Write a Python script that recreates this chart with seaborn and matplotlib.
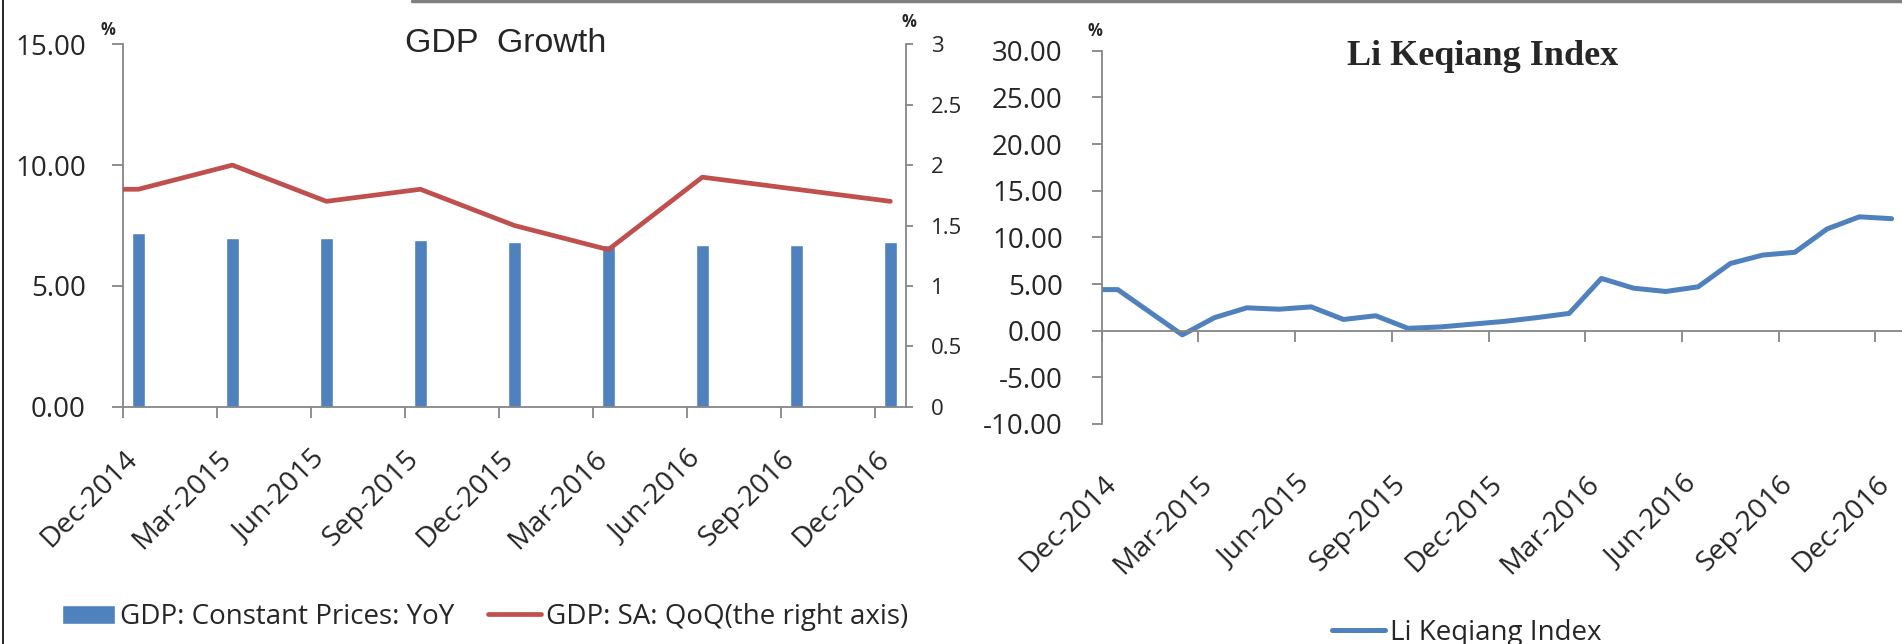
import matplotlib
matplotlib.use("Agg")
import matplotlib.pyplot as plt
from matplotlib.lines import Line2D
from matplotlib.transforms import ScaledTranslation
import pandas as pd
import seaborn as sns

# ---- data -------------------------------------------------------------
gdp_quarters = ["2014-12", "2015-03", "2015-06", "2015-09", "2015-12",
                "2016-03", "2016-06", "2016-09", "2016-12"]
gdp_yoy = [7.2, 7.0, 7.0, 6.9, 6.8, 6.7, 6.7, 6.7, 6.8]

qoq_quarters = ["2014-09"] + gdp_quarters
gdp_qoq = [1.8, 1.8, 2.0, 1.7, 1.8, 1.5, 1.3, 1.9, 1.8, 1.7]

lk_months = ["2014-11", "2014-12", "2015-02", "2015-03", "2015-04", "2015-05",
             "2015-06", "2015-07", "2015-08", "2015-09", "2015-10", "2015-11",
             "2015-12", "2016-01", "2016-02", "2016-03", "2016-04", "2016-05",
             "2016-06", "2016-07", "2016-08", "2016-09", "2016-10", "2016-11",
             "2016-12"]
lk_index = [4.4, 4.4, -0.45, 1.4, 2.45, 2.3, 2.55, 1.2, 1.6, 0.25, 0.4, 0.7,
            1.0, 1.4, 1.85, 5.6, 4.55, 4.2, 4.7, 7.2, 8.1, 8.4, 10.9, 12.2, 12.0]

tick_months = ["2014-12", "2015-03", "2015-06", "2015-09", "2015-12",
               "2016-03", "2016-06", "2016-09", "2016-12"]
tick_labels = ["Dec-2014", "Mar-2015", "Jun-2015", "Sep-2015", "Dec-2015",
               "Mar-2016", "Jun-2016", "Sep-2016", "Dec-2016"]

gdp_left_ticks = [0, 5, 10, 15]
gdp_right_ticks = [0, 0.5, 1, 1.5, 2, 2.5, 3]
lk_ticks = [-10, -5, 0, 5, 10, 15, 20, 25, 30]

# ---- helpers ----------------------------------------------------------
BASE = pd.Period("2014-12", "M")


def month_start(labels):
    return [(pd.Period(s, "M") - BASE).n for s in labels]


def month_mid(labels):
    return [m + 0.5 for m in month_start(labels)]


BLUE = "#4F81BD"
RED = "#C0504D"
GREY = "#868686"
W, H = 1902, 644

sns.set_style("white")
plt.rcParams["font.family"] = ["Open Sans", "DejaVu Sans"]

fig = plt.figure(figsize=(W / 100, H / 100), dpi=100)
shift = ScaledTranslation(20 / 100, 0, fig.dpi_scale_trans)

# ---- left panel: GDP growth ------------------------------------------
ax1 = fig.add_axes([122.7 / W, 1 - 406.7 / H, 783.3 / W, (406.7 - 44.3) / H])
bars = pd.DataFrame({"month": month_mid(gdp_quarters), "yoy": gdp_yoy})
sns.barplot(data=bars, x="month", y="yoy", native_scale=True, width=0.135,
            color=BLUE, saturation=1, errorbar=None, ax=ax1)
ax1.set_xlim(0, 25)
ax1.set_ylim(0, 15)
ax1.set_yticks(gdp_left_ticks, [f"{v:.2f}" for v in gdp_left_ticks])
ax1.set_xticks(month_start(tick_months), tick_labels)
ax1.set_xlabel("")
ax1.set_ylabel("")
for s in ("top", "right"):
    ax1.spines[s].set_visible(False)
for s in ("left", "bottom"):
    ax1.spines[s].set_color(GREY)
    ax1.spines[s].set_linewidth(1.3)
ax1.tick_params(axis="y", direction="out", length=8, width=1.3, color=GREY,
                left=True, pad=18.5, labelsize=20)
ax1.tick_params(axis="x", direction="out", length=8, width=1.3, color=GREY,
                bottom=True, pad=20, labelsize=20.5)
for lab in ax1.get_xticklabels():
    lab.set_rotation(45)
    lab.set_ha("right")
    lab.set_va("top")
    lab.set_transform(lab.get_transform() + shift)

ax1r = ax1.twinx()
sns.lineplot(x=month_mid(qoq_quarters), y=gdp_qoq, color=RED, linewidth=3.4,
             ax=ax1r, legend=False)
ax1r.set_xlim(0, 25)
ax1r.set_ylim(0, 3)
ax1r.set_yticks(gdp_right_ticks, [f"{v:g}" for v in gdp_right_ticks])
ax1r.set_ylabel("")
ax1r.grid(False)
for s in ("top", "left", "bottom"):
    ax1r.spines[s].set_visible(False)
ax1r.spines["right"].set_color(GREY)
ax1r.spines["right"].set_linewidth(1.3)
ax1r.tick_params(axis="y", direction="out", length=5, width=1.3, color=GREY,
                 right=True, pad=13, labelsize=16)

fig.legend(handles=[ax1.patches[0], ax1r.lines[0]],
           labels=["GDP: Constant Prices: YoY", "GDP: SA: QoQ(the right axis)"],
           loc="center left", bbox_to_anchor=(62 / W, 1 - 617 / H), ncol=2,
           frameon=False, fontsize=20, handlelength=1.9, handleheight=0.7,
           handletextpad=0.2, columnspacing=1.2, borderpad=0, borderaxespad=0)

fig.text(506 / W, 1 - 52 / H, "GDP  Growth", ha="center", va="baseline",
         fontsize=24.5, family=["Liberation Sans", "DejaVu Sans"])
fig.text(108 / W, 1 - 30 / H, "%", ha="center", va="center", fontsize=12,
         fontweight="bold")
fig.text(909 / W, 1 - 22 / H, "%", ha="center", va="center", fontsize=12,
         fontweight="bold")

# ---- right panel: Li Keqiang index -----------------------------------
ax2 = fig.add_axes([1101.7 / W, 1 - 424 / H, 806 / W, (424 - 50.7) / H])
sns.lineplot(x=month_mid(lk_months), y=lk_index, color=BLUE, linewidth=3.6,
             ax=ax2, legend=False)
ax2.set_xlim(0, 25)
ax2.set_ylim(-10, 30)
ax2.set_yticks(lk_ticks, [f"{v:.2f}" for v in lk_ticks])
ax2.set_xticks(month_start(tick_months))
ax2.set_ylabel("")
for s in ("top", "right"):
    ax2.spines[s].set_visible(False)
ax2.spines["bottom"].set_position(("data", 0))
for s in ("left", "bottom"):
    ax2.spines[s].set_color(GREY)
    ax2.spines[s].set_linewidth(1.3)
ax2.tick_params(axis="y", direction="out", length=7, width=1.3, color=GREY,
                left=True, pad=21, labelsize=20)
ax2.tick_params(axis="x", direction="out", length=8, width=1.3, color=GREY,
                bottom=True, labelbottom=False)

sec = ax2.secondary_xaxis("bottom")
sec.set_xticks(month_start(tick_months), tick_labels)
sec.spines["bottom"].set_visible(False)
sec.tick_params(axis="x", length=0, pad=33, labelsize=20.5)
for lab in sec.get_xticklabels():
    lab.set_rotation(45)
    lab.set_ha("right")
    lab.set_va("top")
    lab.set_transform(lab.get_transform() + shift)

fig.legend(handles=[ax2.lines[0]], labels=["Li Keqiang Index"],
           loc="center left", bbox_to_anchor=(1332 / W, 1 - 633 / H),
           frameon=False, fontsize=20, handlelength=1.9, handletextpad=0.2,
           borderpad=0, borderaxespad=0)

fig.text(1483 / W, 1 - 65 / H, "Li Keqiang Index", ha="center", va="baseline",
         fontsize=26, fontweight="bold", family=["Liberation Serif", "DejaVu Serif"])
fig.text(1095 / W, 1 - 31 / H, "%", ha="center", va="center", fontsize=12,
         fontweight="bold")

# ---- frame lines -----------------------------------------------------
fig.add_artist(Line2D([2.5 / W, 2.5 / W], [0, 1], color="black", lw=1.2,
                      transform=fig.transFigure))
fig.add_artist(Line2D([412 / W, 1], [1 - 1.2 / H, 1 - 1.2 / H], color="#808080",
                      lw=2.5, transform=fig.transFigure))

fig.savefig("out.png", dpi=100)
